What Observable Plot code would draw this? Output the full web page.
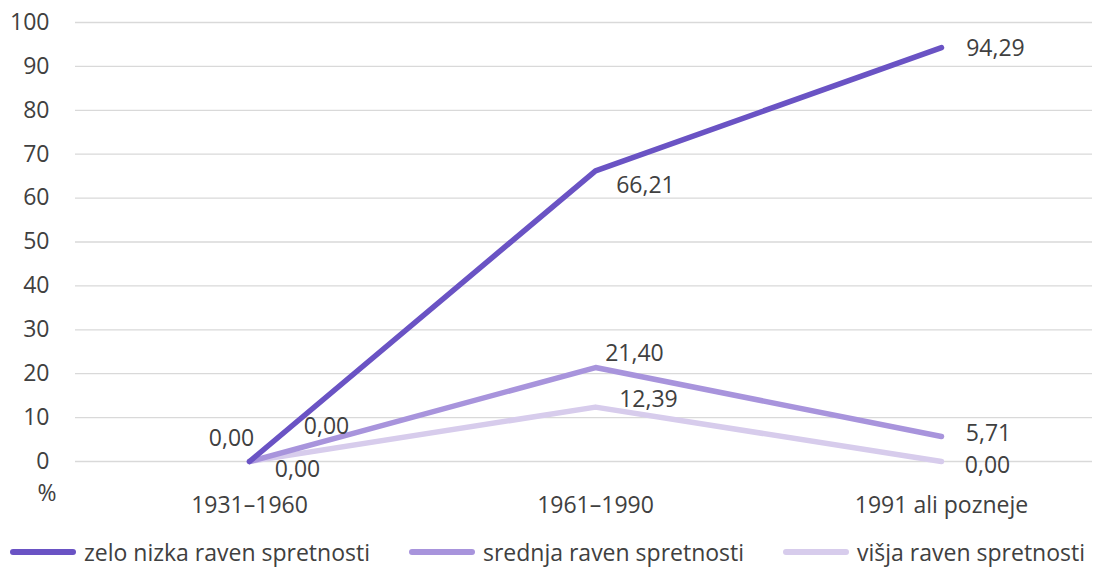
<!DOCTYPE html>
<html><head><meta charset="utf-8">
<script src="https://cdn.jsdelivr.net/npm/d3@7"></script>
<script src="https://cdn.jsdelivr.net/npm/@observablehq/plot@0.6"></script>
<style>
body{margin:0;background:#fff;font-family:"Open Sans",sans-serif;}
#legend{display:flex;justify-content:space-between;padding:0 17px 0 10px;font-size:23px;color:#404040;height:35px;align-items:center;margin-top:0px}
#legend span.item{display:flex;align-items:center;gap:8px}
#legend span.sw{display:inline-block;width:66px;height:6px;border-radius:3px}
</style></head><body>
<div id="chart"></div>
<div id="legend"></div>
<script>
const periods = ["1931–1960","1961–1990","1991 ali pozneje"];
const seriesNames = ["zelo nizka raven spretnosti","srednja raven spretnosti","višja raven spretnosti"];
const zeloNizka = [0.00, 66.21, 94.29];
const srednja = [0.00, 21.40, 5.71];
const visja = [0.00, 12.39, 0.00];
const yTicks = [0,10,20,30,40,50,60,70,80,90,100];
const colors = ["#6a53c4","#a894dc","#d7ccec"];
// label offsets [dx, dy] per series per point
const labelOffsets = [
  [[-18,-23],[50,15],[54,1]],
  [[77,-35],[39,-14],[47,-3]],
  [[48,8],[53,-7],[46,4]]
];

const allSeries = [zeloNizka, srednja, visja];
const data = [];
allSeries.forEach((vals, s) => vals.forEach((v, i) => data.push({
  series: seriesNames[s], period: periods[i], value: v,
  label: v.toFixed(2).replace(".", ","), dx: labelOffsets[s][i][0], dy: labelOffsets[s][i][1]
})));
const ordered = [...data].reverse();

const chart = Plot.plot({
  width: 1102, height: 534,
  marginLeft: 75, marginRight: 10, marginTop: 22, marginBottom: 73,
  style: {fontFamily: "'Open Sans', sans-serif", fontSize: "23px", color: "#404040", background: "#fff"},
  x: {type: "point", domain: periods, range: [248, 941], padding: 0, label: null},
  y: {domain: [0, 100], ticks: yTicks, label: null},
  color: {domain: seriesNames, range: colors},
  marks: [
    Plot.ruleY(yTicks, {stroke: "#d9d9d9", strokeWidth: 1.3}),
    Plot.axisY({ticks: yTicks, tickSize: 0, tickPadding: 26, fontSize: 23, fill: "#404040"}),
    Plot.axisX({tickSize: 0, tickPadding: 35, fontSize: 23, fill: "#404040"}),
    Plot.text(["%"], {frameAnchor: "bottom-left", dx: -38, dy: 39, fontSize: 23, fill: "#404040"}),
    ...[2,1,0].map(s => Plot.line(data.filter(d => d.series === seriesNames[s]), {
      x: "period", y: "value", stroke: colors[s], strokeWidth: 5.5, strokeLinecap: "round", strokeLinejoin: "round"
    })),
    ...ordered.map(d => Plot.text([d], {x: "period", y: "value", text: "label", dx: d.dx, dy: d.dy, fontSize: 23, fill: "#404040"}))
  ]
});
document.getElementById("chart").append(chart);

const legend = document.getElementById("legend");
seriesNames.forEach((n, i) => {
  const it = document.createElement("span"); it.className = "item";
  const sw = document.createElement("span"); sw.className = "sw"; sw.style.background = colors[i];
  const t = document.createElement("span"); t.textContent = n;
  it.append(sw, t); legend.append(it);
});
</script>
</body></html>
